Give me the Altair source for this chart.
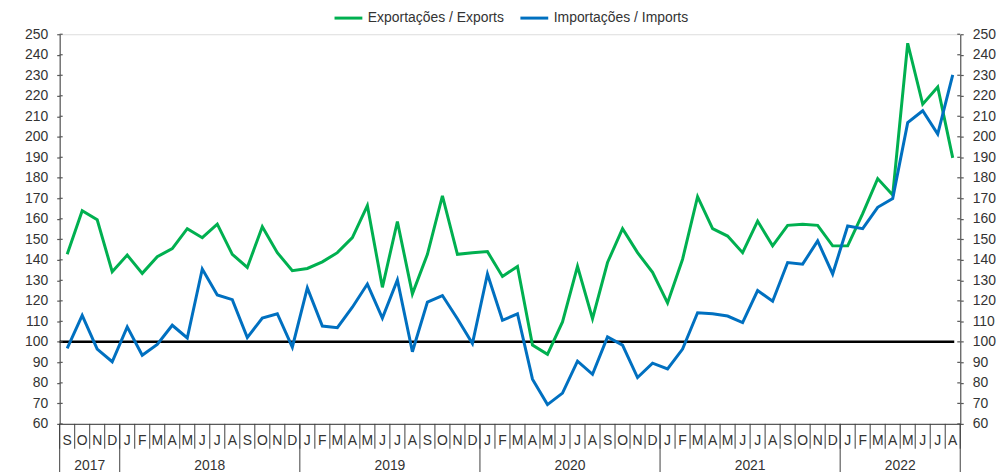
import altair as alt
import pandas as pd

months = ["S", "O", "N", "D"] + ["J", "F", "M", "A", "M", "J", "J", "A", "S", "O", "N", "D"] * 4 + ["J", "F", "M", "A", "M", "J", "J", "A"]
years = ["2017", "2018", "2019", "2020", "2021", "2022"]
year_months = [4, 12, 12, 12, 12, 8]

exports = [142.7, 163.9, 159.5, 134.2,
           142.3, 133.4, 141.5, 145.5, 155.2, 150.8, 157.4, 142.7, 136.3, 156.1, 143.5, 134.7,
           135.8, 139.0, 143.5, 150.8, 166.4, 126.6, 158.7, 123.4, 142.7, 171.2, 142.7, 143.5,
           144.0, 131.9, 136.8, 98.4, 93.9, 109.7, 136.8, 111.3, 138.7, 155.2, 143.5, 133.9,
           119.0, 140.3, 170.8, 155.2, 151.6, 143.5, 158.9, 146.8, 156.8, 157.4, 156.8, 146.8,
           146.8, 162.5, 179.6, 171.6, 245.6, 215.9, 224.3, 189.7]
imports = [96.8, 112.9, 96.5, 90.3,
           107.3, 93.5, 98.7, 108.1, 101.9, 135.5, 122.9, 120.6, 102.1, 111.6, 113.7, 97.4,
           126.3, 107.7, 106.9, 116.9, 128.2, 111.6, 130.2, 95.2, 119.4, 122.6, 111.3, 99.2,
           133.1, 110.5, 113.7, 81.8, 69.4, 75.0, 90.6, 84.2, 102.4, 98.4, 82.6, 89.6,
           86.8, 96.5, 114.2, 113.7, 112.6, 109.4, 125.0, 119.8, 138.7, 137.9, 149.2, 133.1,
           156.5, 155.2, 165.6, 169.9, 206.9, 212.7, 201.3, 230.2]
series_names = ["Exportações / Exports", "Importações / Imports"]
series_colors = ["#00B050", "#0070C0"]
reference_level = 100
tick_values = list(range(60, 251, 10))

W, H = 906, 392
N = len(months)
FONT = "Liberation Sans"
TXT = "#333333"
AX = "#595959"

rows = []
for i in range(N):
    rows.append({"pos": i + 0.5, "series": series_names[0], "value": exports[i]})
    rows.append({"pos": i + 0.5, "series": series_names[1], "value": imports[i]})
df = pd.DataFrame(rows)

month_df = pd.DataFrame({"pos": [i + 0.5 for i in range(N)], "m": months})
month_sep = pd.DataFrame({"b": list(range(N + 1))})
ybounds = [0]
for c in year_months:
    ybounds.append(ybounds[-1] + c)
year_sep = pd.DataFrame({"b": ybounds})
year_df = pd.DataFrame({"pos": [(ybounds[k] + ybounds[k + 1]) / 2 for k in range(len(years))], "y": years})
ref_df = pd.DataFrame({"ref": [reference_level], "x0": [0], "x1": [N - 0.4]})
tick_df = pd.DataFrame({"t": tick_values})

xscale = alt.Scale(domain=[0, N], nice=False, zero=False)
yscale = alt.Scale(domain=[60, 250], nice=False, zero=False)

axis_common = dict(values=tick_values, grid=False, domainColor=AX, tickColor=AX,
                   tickSize=3, labelPadding=9, labelFontSize=14, labelColor=TXT,
                   labelFont=FONT, title=None, domainWidth=1.2, tickWidth=1.2)

lines = alt.Chart(df).mark_line(strokeWidth=3).encode(
    x=alt.X("pos:Q", scale=xscale, axis=alt.Axis(labels=False, ticks=False, grid=False, title=None,
                                                domainColor=AX, domainWidth=1.2)),
    y=alt.Y("value:Q", scale=yscale, axis=alt.Axis(orient="left", **axis_common)),
    color=alt.Color("series:N", scale=alt.Scale(domain=series_names, range=series_colors),
                    legend=alt.Legend(title=None, orient="none", direction="horizontal",
                                      legendX=275, legendY=-32, symbolType="stroke",
                                      symbolSize=784, symbolStrokeWidth=3, labelFontSize=14,
                                      labelFont=FONT, labelColor=TXT, columnPadding=10,
                                      labelOffset=4)),
)

ref = alt.Chart(ref_df).mark_rule(color="black", strokeWidth=2.5).encode(
    y=alt.Y("ref:Q", scale=yscale, axis=alt.Axis(orient="right", **axis_common)),
    x=alt.X("x0:Q", scale=xscale),
    x2="x1:Q",
)

tick_in_l = alt.Chart(tick_df).mark_rule(color=AX, strokeWidth=1.2).encode(
    y=alt.Y("t:Q", scale=yscale, axis=None), x=alt.value(0), x2=alt.value(3))
tick_in_r = alt.Chart(tick_df).mark_rule(color=AX, strokeWidth=1.2).encode(
    y=alt.Y("t:Q", scale=yscale, axis=None), x=alt.value(W - 3), x2=alt.value(W))

msep = alt.Chart(month_sep).mark_rule(color="#404040", strokeWidth=1).encode(
    x=alt.X("b:Q", scale=xscale), y=alt.value(H), y2=alt.value(H + 25))
ysep = alt.Chart(year_sep).mark_rule(color="#404040", strokeWidth=1).encode(
    x=alt.X("b:Q", scale=xscale), y=alt.value(H), y2=alt.value(H + 50))
mtext = alt.Chart(month_df).mark_text(fontSize=14, font=FONT, color=TXT, baseline="middle").encode(
    x=alt.X("pos:Q", scale=xscale), y=alt.value(H + 17), text="m:N")
ytext = alt.Chart(year_df).mark_text(fontSize=14, font=FONT, color=TXT, baseline="middle").encode(
    x=alt.X("pos:Q", scale=xscale), y=alt.value(H + 42), text="y:N")

chart = alt.layer(ref, lines, tick_in_l, tick_in_r, msep, ysep, mtext, ytext).resolve_scale(
    y="independent").properties(
    width=W, height=H, autosize="none",
    padding={"left": 52, "top": 25, "right": 40, "bottom": 47},
).configure_view(stroke=None).configure(font=FONT)

chart.save("out.html", embed_options={"renderer": "svg", "actions": False})
